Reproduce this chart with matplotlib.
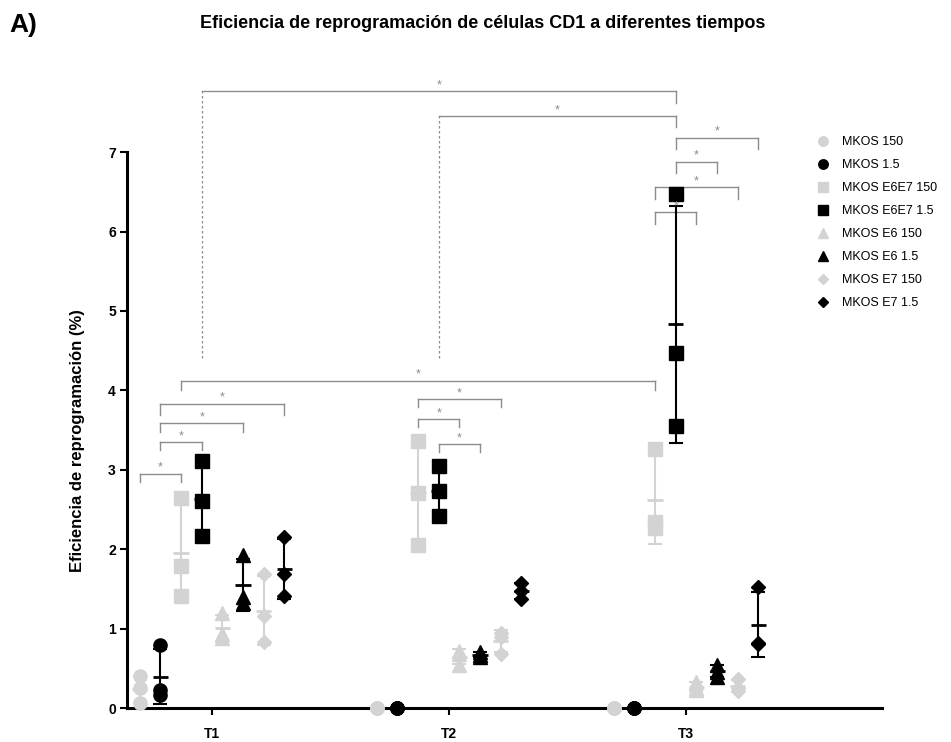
import numpy as np
import matplotlib
matplotlib.use("Agg")
import matplotlib.pyplot as plt
from matplotlib.lines import Line2D

plt.rcParams['font.family'] = ['Liberation Sans', 'DejaVu Sans']

# tiempos y grupos
tiempos = ['T1', 'T2', 'T3']
grupos = ['MKOS 150', 'MKOS 1.5', 'MKOS E6E7 150', 'MKOS E6E7 1.5',
          'MKOS E6 150', 'MKOS E6 1.5', 'MKOS E7 150', 'MKOS E7 1.5']

# eficiencia (%) por réplica, filas = T1, T2, T3
mkos_150 = [[0.40, 0.25, 0.06], [0.0, 0.0, 0.0], [0.0, 0.0, 0.0]]
mkos_1_5 = [[0.79, 0.23, 0.16], [0.0, 0.0, 0.0], [0.0, 0.0, 0.0]]
e6e7_150 = [[2.64, 1.79, 1.41], [3.36, 2.71, 2.05], [3.26, 2.34, 2.27]]
e6e7_1_5 = [[3.11, 2.61, 2.16], [3.05, 2.73, 2.42], [6.47, 4.47, 3.55]]
e6_150 = [[1.20, 0.93, 0.88], [0.72, 0.68, 0.54], [0.33, 0.25, 0.23]]
e6_1_5 = [[1.93, 1.40, 1.32], [0.71, 0.67, 0.64], [0.54, 0.45, 0.39]]
e7_150 = [[1.69, 1.16, 0.83], [0.94, 0.90, 0.68], [0.36, 0.25, 0.22]]
e7_1_5 = [[2.15, 1.69, 1.41], [1.57, 1.47, 1.37], [1.52, 0.82, 0.80]]

datos = [mkos_150, mkos_1_5, e6e7_150, e6e7_1_5, e6_150, e6_1_5, e7_150, e7_1_5]

gris = '#d3d3d3'
colores = [gris, 'black'] * 4
marcadores = ['o', 'o', 's', 's', '^', '^', 'D', 'D']
tamanos = [9.5, 9.5, 9.5, 9.5, 9.5, 9.5, 7.5, 7.5]

paso = 0.0873
offsets = (np.arange(8) - 3.5) * paso


def xpos(t, g):
    return t + 1 + offsets[g]


# comparaciones significativas: (t1, g1), (t2, g2), altura, pata izq, pata der, izq punteada
brackets = [
    ((0, 0), (0, 2), 2.95, 2.85, 2.85, False),
    ((0, 1), (0, 3), 3.35, 3.25, 3.25, False),
    ((0, 1), (0, 5), 3.59, 3.47, 3.47, False),
    ((0, 1), (0, 7), 3.83, 3.69, 3.69, False),
    ((0, 2), (2, 2), 4.12, 4.01, 4.01, False),
    ((1, 2), (1, 6), 3.89, 3.79, 3.79, False),
    ((1, 2), (1, 4), 3.64, 3.54, 3.54, False),
    ((1, 3), (1, 5), 3.32, 3.22, 3.22, False),
    ((0, 3), (2, 3), 7.77, 4.41, 7.62, True),
    ((1, 3), (2, 3), 7.45, 4.41, 7.31, True),
    ((2, 3), (2, 7), 7.18, 7.04, 7.04, False),
    ((2, 3), (2, 5), 6.88, 6.74, 6.74, False),
    ((2, 2), (2, 6), 6.56, 6.41, 6.41, False),
    ((2, 2), (2, 4), 6.24, 6.10, 6.10, False),
]

fig = plt.figure(figsize=(9.51, 7.42), dpi=100)
ax = fig.add_axes([0.1335, 0.0458, 0.794, 0.7492])

for g, serie in enumerate(datos):
    for t in range(3):
        vals = np.array(serie[t])
        x = xpos(t, g)
        media = vals.mean()
        sd = vals.std(ddof=1)
        ax.errorbar(x, media, yerr=sd, fmt='none', ecolor=colores[g],
                    elinewidth=1.5, capsize=5, capthick=1.5, zorder=2, clip_on=False)
        ax.plot([x - 0.032, x + 0.032], [media, media], color=colores[g],
                lw=2, zorder=2, solid_capstyle='butt', clip_on=False)
        ax.plot([x] * len(vals), vals, ls='none', marker=marcadores[g],
                ms=tamanos[g], color=colores[g], mec=colores[g], zorder=3, clip_on=False)

gris_b = '#8c8c8c'
for (a, b, y, pl, pr, punteada) in brackets:
    x1 = xpos(*a)
    x2 = xpos(*b)
    ax.plot([x1, x2], [y, y], color=gris_b, lw=1, clip_on=False, zorder=1)
    ax.plot([x1, x1], [pl, y], color=gris_b, lw=0.9 if punteada else 1,
            ls=(0, (2, 2)) if punteada else '-', clip_on=False, zorder=1)
    ax.plot([x2, x2], [pr, y], color=gris_b, lw=1, clip_on=False, zorder=1)
    ax.text((x1 + x2) / 2, y + 0.075, '*', color=gris_b, fontsize=9,
            ha='center', va='center', clip_on=False)

ax.set_xlim(0.641, 3.827)
ax.set_ylim(0, 7)
ax.set_xticks([1, 2, 3])
ax.set_xticklabels(tiempos, fontweight='bold', fontsize=10)
ax.set_yticks(range(8))
ax.set_yticklabels([str(i) for i in range(8)], fontweight='bold', fontsize=10)
ax.tick_params(axis='both', width=1.5, length=5)
ax.tick_params(axis='x', pad=9)
ax.tick_params(axis='y', pad=3)
for s in ['top', 'right']:
    ax.spines[s].set_visible(False)
for s in ['left', 'bottom']:
    ax.spines[s].set_linewidth(2.2)
ax.set_ylabel('Eficiencia de reprogramación (%)', fontweight='bold', fontsize=12)
ax.yaxis.set_label_coords(-0.055, 0.482)

handles = [Line2D([], [], ls='none', marker=marcadores[g], color=colores[g],
                  ms=tamanos[g] * 0.72) for g in range(8)]
fig.legend(handles, grupos, loc='upper left', bbox_to_anchor=(0.846, 0.832),
           frameon=False, fontsize=9, handletextpad=0.9, labelspacing=0.88,
           handlelength=1.2)

fig.text(0.508, 0.968, 'Eficiencia de reprogramación de células CD1 a diferentes tiempos',
         ha='center', va='center', fontweight='bold', fontsize=13)
fig.text(0.01, 0.966, 'A)', ha='left', va='center', fontweight='bold', fontsize=19)

fig.savefig('out.png', dpi=100)
